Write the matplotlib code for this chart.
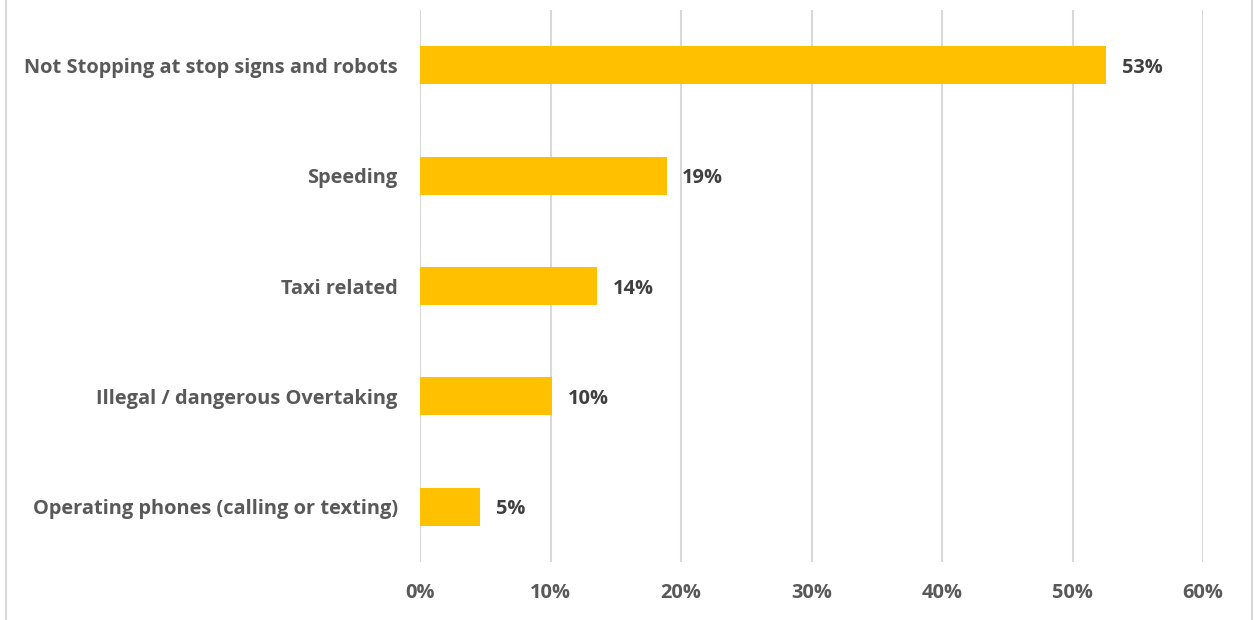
import matplotlib.pyplot as plt
from matplotlib.lines import Line2D

# ---------------------
# DATA
# ---------------------
categories = [
    "Not Stopping at stop signs and robots",
    "Speeding",
    "Taxi related",
    "Illegal / dangerous Overtaking",
    "Operating phones (calling or texting)",
]
values = [52.6, 18.9, 13.6, 10.1, 4.6]
labels = ["53%", "19%", "14%", "10%", "5%"]
xticks = [0, 10, 20, 30, 40, 50, 60]

plt.rcParams["font.family"] = ["Open Sans", "DejaVu Sans"]
FS = 14.4

fig = plt.figure(figsize=(12.54, 6.2), dpi=100)
ax = fig.add_axes([420 / 1254, 1 - 562 / 620, (1203 - 420) / 1254, 552 / 620])

ypos = list(range(len(categories)))
ax.barh(ypos, values, height=0.345, color="#FFC000", zorder=3)

for y, v, lab in zip(ypos, values, labels):
    ax.text(v + 1.2, y, lab, va="center_baseline", ha="left", fontsize=FS,
            fontweight="bold", color="#404040")

ax.set_ylim(len(categories) - 0.5, -0.5)
ax.set_xlim(0, 60)
ax.set_yticks(ypos)
ax.set_yticklabels(categories, fontsize=FS, fontweight="bold", color="#595959")
ax.set_xticks(xticks)
ax.set_xticklabels([f"{t}%" for t in xticks], fontsize=FS, fontweight="bold",
                   color="#595959")
ax.tick_params(axis="y", length=0, pad=16)
ax.tick_params(axis="x", length=0, pad=15)
ax.grid(axis="x", color="#D9D9D9", linewidth=1.5, zorder=0)
for s in ax.spines.values():
    s.set_visible(False)

# chart frame
fig.add_artist(Line2D([6 / 1254, 6 / 1254], [0, 1], color="#D9D9D9", linewidth=1.5))
fig.add_artist(Line2D([1252 / 1254, 1252 / 1254], [0, 1], color="#D9D9D9", linewidth=1.5))

plt.savefig("out.png", dpi=100)
